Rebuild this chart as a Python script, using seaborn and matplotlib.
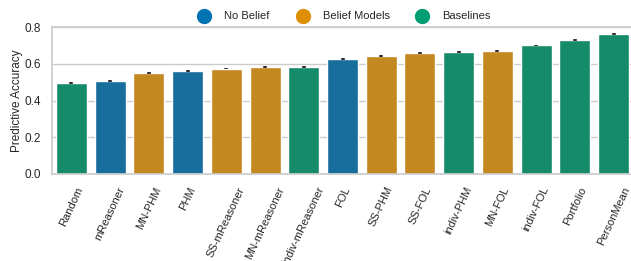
import seaborn as sns
import matplotlib.pyplot as plt
import pandas as pd
from matplotlib.lines import Line2D

models = ["Random", "mReasoner", "MN-PHM", "PHM", "SS-mReasoner", "MN-mReasoner",
          "indiv-mReasoner", "FOL", "SS-PHM", "SS-FOL", "indiv-PHM", "MN-FOL",
          "indiv-FOL", "Portfolio", "PersonMean"]
groups = ["Baselines", "No Belief", "Belief Models", "No Belief", "Belief Models",
          "Belief Models", "Baselines", "No Belief", "Belief Models", "Belief Models",
          "Baselines", "Belief Models", "Baselines", "Baselines", "Baselines"]
accuracy = [0.495, 0.505, 0.548, 0.560, 0.574, 0.582, 0.584, 0.624, 0.640, 0.660,
            0.666, 0.670, 0.700, 0.731, 0.762]
ci = [0.005, 0.005, 0.006, 0.005, 0.005, 0.005, 0.005, 0.005, 0.005, 0.005,
      0.005, 0.005, 0.004, 0.005, 0.005]
legend_order = ["No Belief", "Belief Models", "Baselines"]

df = pd.DataFrame({"model": models, "group": groups, "acc": accuracy})

sns.set_theme(style="whitegrid", palette="colorblind")
plt.rcParams['font.family'] = ['Liberation Sans', 'DejaVu Sans']
cb = sns.color_palette("colorblind")
pal = {"No Belief": cb[0], "Belief Models": cb[1], "Baselines": cb[2]}

fig = plt.figure(figsize=(6.31, 2.61), dpi=100)
ax = fig.add_axes([52 / 631, 1 - 174 / 261, 581 / 631, 147 / 261])

sns.barplot(data=df, x="model", y="acc", hue="group", palette=pal, dodge=False,
            errorbar=None, legend=False, ax=ax, width=0.8)
# small confidence intervals on top of each bar
ax.errorbar(x=range(len(models)), y=accuracy, yerr=ci, fmt="none",
            ecolor=".2", elinewidth=2.6, capsize=0)

ax.set_ylim(0, 0.8)
ax.set_xlim(-0.5, len(models) - 0.5)
ax.set_yticks([0.0, 0.2, 0.4, 0.6, 0.8])
ax.tick_params(axis="y", labelsize=8.5, pad=2)
ax.tick_params(axis="x", labelsize=8, rotation=65, pad=2)
ax.set_xlabel("")
ax.set_ylabel("Predictive Accuracy", fontsize=8.5, labelpad=1)

handles = [Line2D([], [], marker="o", linestyle="", markersize=10,
                  color=pal[g]) for g in legend_order]
fig.legend(handles, legend_order, loc="center", bbox_to_anchor=(0.542, 0.937),
           ncol=3, frameon=False, fontsize=8, handletextpad=0.8,
           columnspacing=1.95)

plt.savefig("out.png", dpi=100)
